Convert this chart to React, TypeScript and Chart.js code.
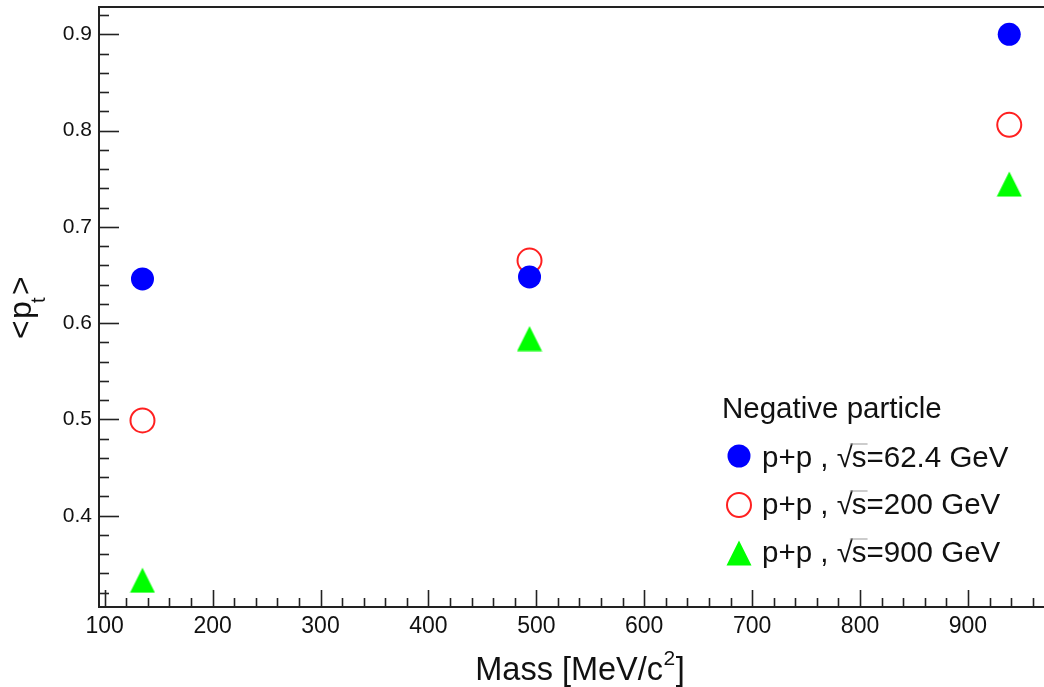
import React, { useEffect, useRef } from "react";
import { Chart, registerables } from "chart.js";

Chart.register(...registerables);

// ---- data ----
const particles = ["pi-", "K-", "pbar"];
const masses = [135, 493.7, 938.3];
const pt62 = [0.646, 0.648, 0.9];
const pt200 = [0.499, 0.665, 0.806];
const pt900 = [0.333, 0.584, 0.7445];
const energies = ["62.4 GeV", "200 GeV", "900 GeV"];
const legendTitle = "Negative particle";
const xTickLabels = [100, 200, 300, 400, 500, 600, 700, 800, 900];
const yTickLabels = [0.4, 0.5, 0.6, 0.7, 0.8, 0.9];
const xRange = [94.7, 980.7];
const yRange = [0.3052, 0.9284];

const FONT = "'Liberation Sans', Arial, Helvetica, sans-serif";

function makeTriangle(size: number, color: string) {
  const c = document.createElement("canvas");
  c.width = size;
  c.height = size;
  const ctx = c.getContext("2d")!;
  ctx.fillStyle = color;
  ctx.beginPath();
  ctx.moveTo(size / 2, 0.5);
  ctx.lineTo(size - 0.5, size - 0.5);
  ctx.lineTo(0.5, size - 0.5);
  ctx.closePath();
  ctx.fill();
  return c;
}

const decorPlugin = {
  id: "decor",
  afterDraw(chart: any) {
    const ctx: CanvasRenderingContext2D = chart.ctx;
    const { left, right, top, bottom } = chart.chartArea;
    const xs = chart.scales.x;
    const ys = chart.scales.y;
    ctx.save();
    // top frame
    ctx.strokeStyle = "#222";
    ctx.lineWidth = 2;
    ctx.beginPath();
    ctx.moveTo(left - 1, top);
    ctx.lineTo(right + 5, top);
    ctx.stroke();
    // inward ticks x
    ctx.lineWidth = 1.6;
    for (let v = 100; v <= xRange[1]; v += 20) {
      const major = Math.abs(v % 100) < 1e-6;
      const px = Math.round(xs.getPixelForValue(v)) + 0.5;
      ctx.beginPath();
      ctx.moveTo(px, bottom);
      ctx.lineTo(px, bottom - (major ? 17 : 9));
      ctx.stroke();
    }
    // inward ticks y
    for (let i = 16; i <= 46; i++) {
      const v = i / 50;
      if (v < yRange[0] || v > yRange[1]) continue;
      const major = i % 5 === 0;
      const py = Math.round(ys.getPixelForValue(v)) + 0.5;
      ctx.beginPath();
      ctx.moveTo(left, py);
      ctx.lineTo(left + (major ? 20 : 10), py);
      ctx.stroke();
    }

    ctx.fillStyle = "#111";
    // x title
    {
      const big = `32.5px ${FONT}`;
      const small = `21px ${FONT}`;
      ctx.font = big;
      const a = "Mass [MeV/c";
      const b = "]";
      const wa = ctx.measureText(a).width;
      const wb = ctx.measureText(b).width;
      ctx.font = small;
      const ws = ctx.measureText("2").width;
      const total = wa + ws + wb + 1;
      const cx = 580;
      let x = cx - total / 2;
      const base = 680;
      ctx.textBaseline = "alphabetic";
      ctx.textAlign = "left";
      ctx.font = big;
      ctx.fillText(a, x, base);
      x += wa;
      ctx.font = small;
      ctx.fillText("2", x + 0.5, base - 15);
      x += ws + 1;
      ctx.font = big;
      ctx.fillText(b, x, base);
    }
    // y title
    {
      ctx.save();
      ctx.translate(31, 306);
      ctx.rotate(-Math.PI / 2);
      const big = `32px ${FONT}`;
      const small = `20px ${FONT}`;
      ctx.textAlign = "left";
      ctx.textBaseline = "alphabetic";
      ctx.font = big;
      ctx.fillText("<", -33, 0);
      ctx.fillText("p", -13, 0);
      ctx.font = small;
      ctx.fillText("t", 3, 14);
      ctx.font = big;
      ctx.fillText(">", 11, 0);
      ctx.restore();
    }
    // legend
    {
      const LF = `29.5px ${FONT}`;
      ctx.textAlign = "left";
      ctx.textBaseline = "alphabetic";
      ctx.font = LF;
      ctx.fillStyle = "#111";
      ctx.fillText(legendTitle, 722, 418);
      const rows = [456, 505, 553];
      const bases = [466.5, 513.5, 561.5];
      chart.data.datasets.forEach((ds: any, i: number) => {
        const mx = 739;
        const my = rows[i];
        if (ds.pointStyle === "circle") {
          ctx.beginPath();
          ctx.arc(mx, my, ds.pointRadius, 0, Math.PI * 2);
          if (ds.backgroundColor && ds.backgroundColor !== "rgba(0,0,0,0)") {
            ctx.fillStyle = ds.backgroundColor;
            ctx.fill();
          }
          if (ds.borderWidth > 0) {
            ctx.strokeStyle = ds.borderColor;
            ctx.lineWidth = ds.borderWidth;
            ctx.stroke();
          }
        } else {
          const img = ds.pointStyle as HTMLCanvasElement;
          ctx.drawImage(img, mx - img.width / 2, my - img.height / 2);
        }
        ctx.fillStyle = "#111";
        ctx.font = LF;
        let x = 762;
        const p1 = "p+p , ";
        ctx.fillText(p1, x, bases[i]);
        x += ctx.measureText(p1).width;
        ctx.fillText("\u221A", x, bases[i]);
        const wr = ctx.measureText("\u221A").width;
        x += wr - 1;
        const sw = ctx.measureText("s").width;
        ctx.fillText("s", x, bases[i]);
        ctx.strokeStyle = "#999";
        ctx.lineWidth = 1;
        ctx.beginPath();
        ctx.moveTo(x - 2, bases[i] - 22.5);
        ctx.lineTo(x + sw + 1, bases[i] - 22.5);
        ctx.stroke();
        x += sw;
        ctx.fillStyle = "#111";
        ctx.fillText("=" + energies[i], x, bases[i]);
      });
    }
    ctx.restore();
  },
};

const zeroPad = (s: any) => {
  s.paddingLeft = 0;
  s.paddingRight = 0;
  s.paddingTop = 0;
  s.paddingBottom = 0;
};

export default function App() {
  const ref = useRef<HTMLCanvasElement | null>(null);
  useEffect(() => {
    if (!ref.current) return;
    const tri = makeTriangle(26, "#00ff00");
    const mk = (vals: number[]) => masses.map((m, i) => ({ x: m, y: vals[i] }));
    const chart = new Chart(ref.current, {
      type: "scatter",
      data: {
        datasets: [
          {
            label: "p+p, \u221As=" + energies[0],
            data: mk(pt62),
            pointStyle: "circle",
            pointRadius: 11.5,
            backgroundColor: "#0000ff",
            borderColor: "#0000ff",
            borderWidth: 0,
          },
          {
            label: "p+p, \u221As=" + energies[1],
            data: mk(pt200),
            pointStyle: "circle",
            pointRadius: 12,
            backgroundColor: "rgba(0,0,0,0)",
            borderColor: "#ff2020",
            borderWidth: 2,
          },
          {
            label: "p+p, \u221As=" + energies[2],
            data: mk(pt900),
            pointStyle: tri as any,
            pointRadius: 13,
            backgroundColor: "#00ff00",
            borderColor: "#00ff00",
            borderWidth: 0,
          },
        ] as any,
      },
      plugins: [decorPlugin],
      options: {
        animation: false,
        responsive: false,
        maintainAspectRatio: false,
        layout: { autoPadding: false, padding: { top: 7, right: 7, left: 0, bottom: 0 } },
        plugins: { legend: { display: false }, tooltip: { enabled: false } },
        scales: {
          x: {
            type: "linear",
            min: xRange[0],
            max: xRange[1],
            grid: { display: false, drawTicks: false },
            border: { display: true, color: "#222", width: 2 },
            afterBuildTicks: (s: any) => {
              s.ticks = xTickLabels.map((v) => ({ value: v }));
            },
            ticks: {
              autoSkip: false,
              maxRotation: 0,
              padding: 6,
              color: "#111",
              font: { family: FONT, size: 23 },
              callback: (v: any) => String(v),
            },
            afterFit: (s: any) => {
              s.height = 80;
              zeroPad(s);
            },
          },
          y: {
            type: "linear",
            min: yRange[0],
            max: yRange[1],
            grid: { display: false, drawTicks: false },
            border: { display: true, color: "#222", width: 2 },
            afterBuildTicks: (s: any) => {
              s.ticks = yTickLabels.map((v) => ({ value: v }));
            },
            ticks: {
              autoSkip: false,
              padding: 7,
              color: "#111",
              font: { family: FONT, size: 21 },
              callback: (v: any) => Number(v).toFixed(1),
            },
            afterFit: (s: any) => {
              s.width = 99;
              zeroPad(s);
            },
          },
        },
      } as any,
    });
    return () => chart.destroy();
  }, []);
  return (
    <div
      style={{
        position: "fixed",
        left: 0,
        top: 0,
        width: 1044,
        height: 687,
        overflow: "hidden",
        background: "#fff",
      }}
    >
      <canvas ref={ref} width={1062} height={687} style={{ width: 1062, height: 687, display: "block" }} />
    </div>
  );
}
